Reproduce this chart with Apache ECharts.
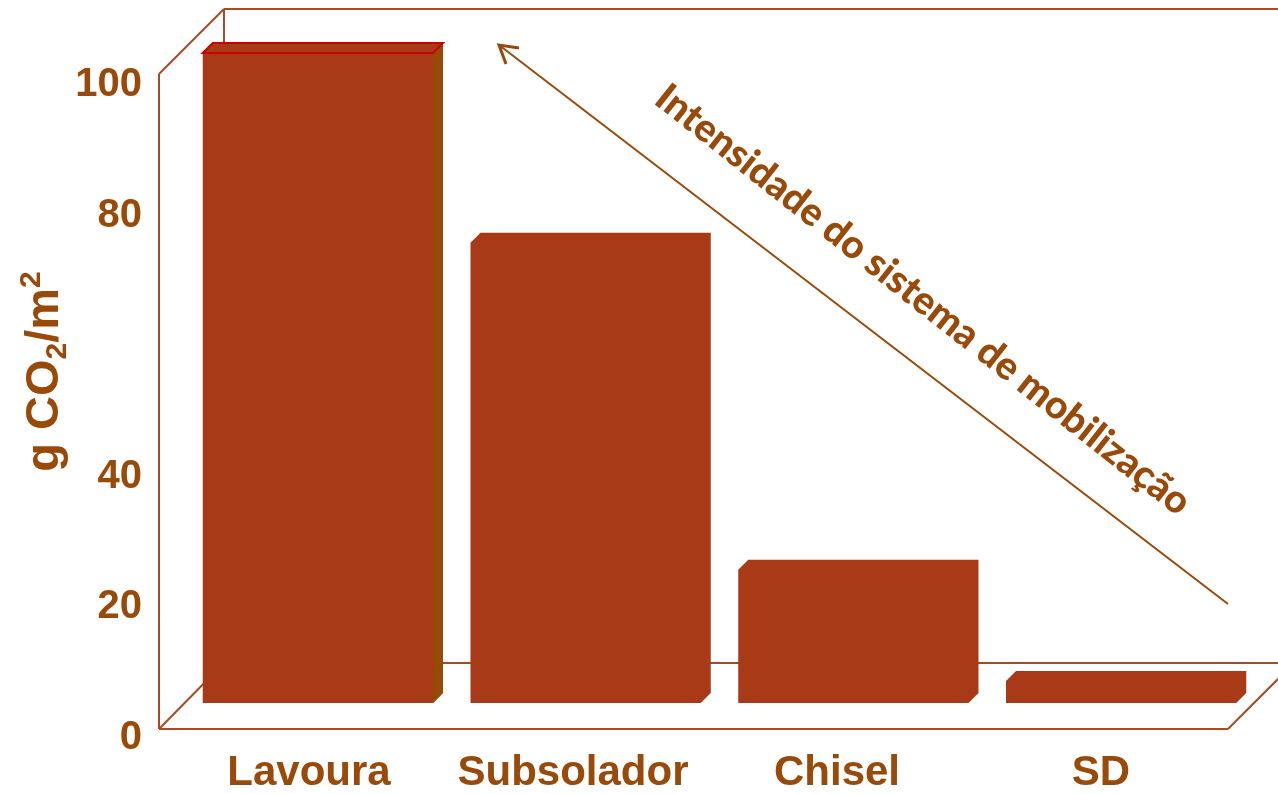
<!DOCTYPE html>
<html><head><meta charset="utf-8">
<script src="https://cdn.jsdelivr.net/npm/echarts@6/dist/echarts.min.js"></script>
<style>html,body{margin:0;padding:0;background:#fff}#c{width:1278px;height:794px}</style>
</head><body><div id="c"></div>
<script>
// ---- data ----
const categories = ['Lavoura', 'Subsolador', 'Chisel', 'SD'];
const values = [100, 70.8, 20.5, 3.4];
const yTickLabels = ['0', '20', '40', '', '80', '100'];
const arrowText = 'Intensidade do sistema de mobilização';

// ---- style ----
const TXT = '#9A4A08';
const BAR = '#A83A18';
const SIDE = '#954A05';
const FRAME = '#A84A22';

const chart = echarts.init(document.getElementById('c'), null, {renderer: 'canvas'});

function bar3d(params, api) {
  const i = api.value(0), v = api.value(1);
  const top = api.coord([i, v]), base = api.coord([i, 0]);
  const band = api.size([1, 0])[0];
  const w = band * 0.86, d = 10;
  const x0 = top[0] - (w + d) / 2 - 1, x1 = x0 + w;
  const yt = top[1], yb = base[1];
  const children = [{
    type: 'polygon',
    shape: {points: [[x0, yb], [x0, yt], [x0 + d, yt - d], [x1 + d, yt - d], [x1 + d, yb - d], [x1, yb]]},
    style: {fill: BAR}
  }];
  if (params.dataIndex === 0) {
    children.push({
      type: 'polygon',
      shape: {points: [[x1, yt], [x1 + d, yt - d], [x1 + d, yb - d], [x1, yb]]},
      style: {fill: SIDE}
    });
    children.push({
      type: 'polygon',
      shape: {points: [[x0, yt], [x0 + d, yt - d], [x1 + d, yt - d], [x1, yt]]},
      style: {fill: BAR, stroke: '#CC0000', lineWidth: 2}
    });
  }
  return {type: 'group', children};
}

const frameLines = [
  [[159, 74], [159, 729]],
  [[159, 74], [224, 9]],
  [[224, 9], [1290, 9]],
  [[224, 9], [224, 663]],
  [[159, 729], [224, 663]],
  [[224, 663], [1290, 663]],
  [[159, 729], [1228, 729]],
  [[1228, 729], [1294, 663]]
];

const graphics = frameLines.map(p => ({
  type: 'line', z: 0, silent: true,
  shape: {x1: p[0][0], y1: p[0][1], x2: p[1][0], y2: p[1][1]},
  style: {stroke: FRAME, lineWidth: 2}
}));
graphics.push({
  type: 'line', z: 100,
  shape: {x1: 1228, y1: 604, x2: 499, y2: 45},
  style: {stroke: TXT, lineWidth: 2}
});
graphics.push({
  type: 'polyline', z: 100,
  shape: {points: [[519, 48], [499, 45], [506, 64]]},
  style: {stroke: TXT, lineWidth: 3, fill: null}
});
graphics.push({
  type: 'text', z: 100,
  x: 923, y: 300, rotation: -0.668,
  style: {
    text: arrowText, fill: TXT, font: '900 39px Lato',
    align: 'center', verticalAlign: 'middle'
  }
});

const titleFont = {color: TXT, fontWeight: 'bold', fontFamily: 'Liberation Sans', lineHeight: 56};

chart.setOption({
  animation: false,
  backgroundColor: '#ffffff',
  grid: [
    {left: 177, right: 45, top: 85, bottom: 51},
    {left: 190, right: 17, top: 53, bottom: 91}
  ],
  xAxis: [
    {
      type: 'category', gridIndex: 0, data: categories,
      axisLine: {show: false}, axisTick: {show: false},
      axisLabel: {color: TXT, fontSize: 42, fontWeight: 'bold', fontFamily: 'Liberation Sans', margin: 14, interval: 0}
    },
    {type: 'category', gridIndex: 1, data: categories, show: false}
  ],
  yAxis: [
    {
      type: 'value', gridIndex: 0, min: 0, max: 100, interval: 20,
      axisLine: {show: false}, axisTick: {show: false}, splitLine: {show: false},
      axisLabel: {
        color: TXT, fontSize: 40, fontWeight: 'bold', fontFamily: 'Liberation Sans', margin: 35,
        formatter: v => yTickLabels[Math.round(v / 20)]
      },
      name: '{a|g CO}{s|2}{a|/m}{p|2}',
      nameLocation: 'middle', nameRotate: 90, nameGap: 104, nameMoveOverlap: false,
      nameTextStyle: {
        padding: [0, 0, 0, 80],
        rich: {
          a: Object.assign({fontSize: 47, verticalAlign: 'middle'}, titleFont),
          s: Object.assign({fontSize: 30, verticalAlign: 'bottom'}, titleFont),
          p: Object.assign({fontSize: 30, verticalAlign: 'top'}, titleFont)
        }
      }
    },
    {type: 'value', gridIndex: 1, min: 0, max: 100, show: false}
  ],
  series: [{
    type: 'custom', xAxisIndex: 1, yAxisIndex: 1, z: 5,
    renderItem: bar3d,
    data: categories.map((c, i) => [i, values[i]])
  }],
  graphic: graphics
});
</script>
</body></html>
